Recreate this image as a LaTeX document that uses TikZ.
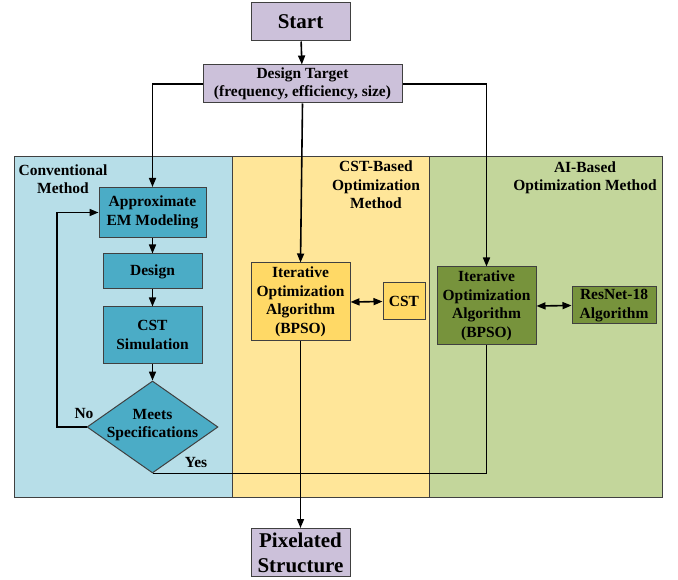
\documentclass[tikz,border=0pt]{standalone}
\usepackage{fontspec}
\setmainfont{Liberation Serif}
\usetikzlibrary{shapes.geometric,arrows.meta}
\definecolor{purp}{HTML}{CCC1DA}
\definecolor{convbg}{HTML}{B7DEE8}
\definecolor{convbox}{HTML}{4BACC6}
\definecolor{cstbg}{HTML}{FFE699}
\definecolor{cstbox}{HTML}{FFD966}
\definecolor{aibg}{HTML}{C3D69B}
\definecolor{aibox}{HTML}{77933C}
\definecolor{edge}{HTML}{404040}
\tikzset{
  base/.style={draw=edge, line width=1pt, align=center, inner sep=0pt,
    font=\fontsize{15.5}{18.5}\selectfont\bfseries},
  pbox/.style={base, fill=purp},
  cbox/.style={base, fill=convbox},
  ybox/.style={base, fill=cstbox},
  gbox/.style={base, fill=aibox},
  panel/.style={draw=edge, line width=1pt},
  lbl/.style={align=center, inner sep=0pt, font=\fontsize{15.5}{18.5}\selectfont\bfseries},
  arr/.style={line width=1.6pt, -{Triangle[length=9pt,width=7pt]}},
  darr/.style={line width=1.6pt, {Triangle[length=9pt,width=7pt]}-{Triangle[length=9pt,width=7pt]}},
  ln/.style={line width=1.6pt}
}
\begin{document}
\begin{tikzpicture}[x=1pt,y=-1pt]
\useasboundingbox (0,0) rectangle (678,580);
% panels
\draw[panel, fill=convbg] (14,157) rectangle (232,497);
\draw[panel, fill=cstbg] (232,157) rectangle (429,497);
\draw[panel, fill=aibg] (429,157) rectangle (662,497);
\node[lbl] (lconv) at (63,179) {Conventional\\Method};
\node[lbl] (lcst) at (376,185) {CST-Based\\Optimization\\Method};
\node[lbl] (lai) at (585,178) {AI-Based\\Optimization Method};
% nodes
\node[pbox, minimum width=99pt, minimum height=38pt, font=\fontsize{21}{25}\selectfont\bfseries] (start) at (300.5,22) {Start};
\node[pbox, minimum width=199pt, minimum height=38pt] (target) at (302.5,84) {Design Target\\(frequency, efficiency, size)};
\node[cbox, minimum width=107pt, minimum height=50pt] (approx) at (152.5,212.5) {Approximate\\EM Modeling};
\node[cbox, minimum width=99pt, minimum height=35pt] (design) at (152.5,271.5) {Design};
\node[cbox, minimum width=99pt, minimum height=56pt] (cstsim) at (152.5,335) {CST\\Simulation};
\node[cbox, diamond, minimum width=131pt, minimum height=92pt] (meets) at (152.5,427) {};
\node[lbl] (meetst) at (152.5,425) {Meets\\Specifications};
\node[ybox, minimum width=99pt, minimum height=78pt] (cstiter) at (300.5,302) {Iterative\\Optimization\\Algorithm\\(BPSO)};
\node[ybox, minimum width=42pt, minimum height=37pt] (cstb) at (404,301.5) {CST};
\node[gbox, minimum width=99pt, minimum height=78pt] (aiiter) at (486.5,306) {Iterative\\Optimization\\Algorithm\\(BPSO)};
\node[gbox, minimum width=84pt, minimum height=37pt] (resnet) at (614,305.5) {ResNet-18\\Algorithm};
\node[pbox, minimum width=99pt, minimum height=48pt, font=\fontsize{21}{25}\selectfont\bfseries] (pixel) at (300.5,552.5) {Pixelated\\Structure};
\node[lbl] (no) at (84,414) {No};
\node[lbl] (yes) at (196,463) {Yes};
% connectors
\draw[arr] (start) -- (target);
\draw[arr] (target.west) -| (approx.north);
\draw[arr] (target.south) -- (cstiter.north);
\draw[arr] (target.east) -| (aiiter.north);
\draw[arr] (approx) -- (design);
\draw[arr] (design) -- (cstsim);
\draw[arr] (cstsim) -- (meets.north);
\coordinate (fb) at (57,427);
\draw[arr] (meets.west) -- (fb) |- (approx.west);
\draw[ln] (meets.south) -| (aiiter.south);
\draw[arr] (cstiter.south) -- (pixel.north);
\draw[darr] (cstiter.east) -- (cstb.west);
\draw[darr] (aiiter.east) -- (resnet.west);
\end{tikzpicture}
\end{document}
